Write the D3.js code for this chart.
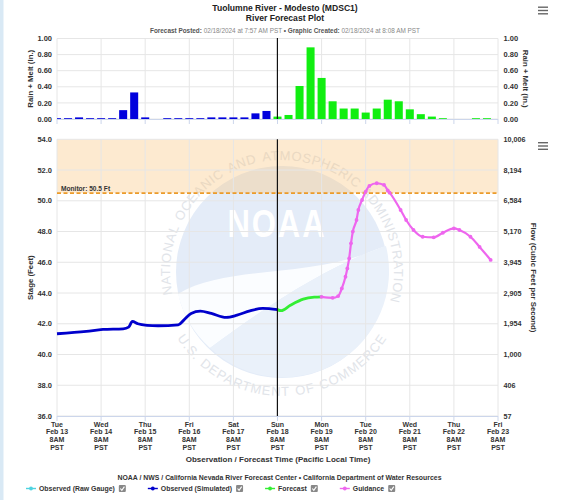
<!DOCTYPE html>
<html><head><meta charset="utf-8">
<script src="https://cdn.jsdelivr.net/npm/d3@7"></script>
<style>
body{margin:0;background:#fff;}
svg{display:block;font-family:"Liberation Sans",Arial,Helvetica,sans-serif;}
</style></head><body>
<svg id="c" width="562" height="500"></svg>
<script>
// ---------------- data ----------------
const xStart = "2024-02-13T08:00Z";
const xEnd = "2024-02-23T08:00Z";
const nowTime = "2024-02-18T07:57Z";
const dayNames = ["Tue","Wed","Thu","Fri","Sat","Sun","Mon","Tue","Wed","Thu","Fri"];
const dayDates = ["Feb 13","Feb 14","Feb 15","Feb 16","Feb 17","Feb 18","Feb 19","Feb 20","Feb 21","Feb 22","Feb 23"];
const dayHour = "8AM";
const dayZone = "PST";

const precipStart = "2024-02-13T08:00Z";   // 6-hourly values
const obsPrecip = [0.01,0.01,0.02,0.01,0.01,0.01,0.11,0.33,0.02,0,0.01,0.01,0.01,0.01,0.02,0.02,0.02,0.02,0.07,0.10];
const fcstPrecip = [0.03,0.05,0.41,0.89,0.51,0.22,0.13,0.13,0.08,0.13,0.24,0.22,0.12,0.06,0.03,0.01,0,0,0.01,0.01,0];
const precipTicks = [0,0.2,0.4,0.6,0.8,1.0];
const precipLabels = ["0.00","0.20","0.40","0.60","0.80","1.00"];

const stageTicks = [36,38,40,42,44,46,48,50,52,54];
const stageLabels = ["36.0","38.0","40.0","42.0","44.0","46.0","48.0","50.0","52.0","54.0"];
const flowLabels = ["57","406","1,000","1,954","2,905","3,945","5,170","6,584","8,194","10,006"];
const monitorStage = 50.5;

const obsStage = [
 ["2024-02-13T08:00Z",41.35],["2024-02-14T00:00Z",41.50],["2024-02-14T09:00Z",41.63],
 ["2024-02-14T20:00Z",41.67],["2024-02-14T23:00Z",41.78],["2024-02-15T01:00Z",42.15],
 ["2024-02-15T04:00Z",42.00],["2024-02-15T09:00Z",41.90],["2024-02-15T15:00Z",41.87],
 ["2024-02-16T02:00Z",41.93],["2024-02-16T05:00Z",42.24],["2024-02-16T09:00Z",42.67],
 ["2024-02-16T14:00Z",42.82],["2024-02-16T20:00Z",42.67],["2024-02-17T04:00Z",42.41],
 ["2024-02-17T10:00Z",42.56],["2024-02-17T17:00Z",42.84],["2024-02-18T00:00Z",43.00],
 ["2024-02-18T08:00Z",42.92]
];
const fcstStage = [
 ["2024-02-18T08:00Z",42.92],["2024-02-18T10:00Z",42.85],["2024-02-18T15:00Z",43.20],
 ["2024-02-18T22:00Z",43.60],["2024-02-19T04:00Z",43.73],["2024-02-19T08:00Z",43.75]
];
const guidStage = [
 ["2024-02-19T08:00Z",43.75],["2024-02-19T14:00Z",43.69],["2024-02-19T17:00Z",43.80],
 ["2024-02-19T19:00Z",44.30],["2024-02-19T21:00Z",45.06],["2024-02-19T22:00Z",45.60],
 ["2024-02-19T23:00Z",46.25],["2024-02-20T00:00Z",47.23],["2024-02-20T01:00Z",48.00],
 ["2024-02-20T03:00Z",48.75],["2024-02-20T04:00Z",49.40],["2024-02-20T06:00Z",50.05],
 ["2024-02-20T08:00Z",50.60],["2024-02-20T10:00Z",50.97],["2024-02-20T14:00Z",51.14],
 ["2024-02-20T18:00Z",51.03],["2024-02-20T20:00Z",50.67],["2024-02-20T21:00Z",50.53],
 ["2024-02-21T03:00Z",49.40],["2024-02-21T06:00Z",48.75],["2024-02-21T10:00Z",48.10],
 ["2024-02-21T15:00Z",47.66],["2024-02-21T21:00Z",47.62],["2024-02-22T02:00Z",47.92],
 ["2024-02-22T08:00Z",48.20],["2024-02-22T11:00Z",48.10],["2024-02-22T17:00Z",47.66],
 ["2024-02-22T22:00Z",47.00],["2024-02-23T04:00Z",46.15]
];
const legendItems = ["Observed (Raw Gauge)","Observed (Simulated)","Forecast","Guidance"];
const legendColors = ["#4fd3e0","#0000cc","#33ee33","#ee66ee"];
const sealTopWords = ["NATIONAL","OCEANIC","AND","ATMOSPHERIC","ADMINISTRATION"];
const sealBottomWords = ["U.S.","DEPARTMENT","OF","COMMERCE"];

// ---------------- layout ----------------
const svg = d3.select("#c");
const X0 = 57, X1 = 498;
const x = d3.scaleUtc().domain([new Date(xStart), new Date(xEnd)]).range([X0, X1]);
const yP = d3.scaleLinear().domain([0, 1]).range([119, 38.5]);
const yS = d3.scaleLinear().domain([36, 54]).range([416, 139.3]);
const tickDates = dayNames.map((d, i) => d3.utcDay.offset(new Date(xStart), i));
const grid = "#e6e6e6", axisCol = "#ccd6eb", txt = "#333";

svg.append("rect").attr("width", 562).attr("height", 500).attr("fill", "#fff");
svg.append("rect").attr("width", 3.5).attr("height", 500).attr("fill", "#d9e9f5");

// titles
svg.append("text").attr("x", 285).attr("y", 10.5).attr("text-anchor", "middle")
  .attr("font-size", 8.6).attr("font-weight", "bold").attr("fill", "#222").text("Tuolumne River - Modesto (MDSC1)");
svg.append("text").attr("x", 285).attr("y", 20.6).attr("text-anchor", "middle")
  .attr("font-size", 8.6).attr("font-weight", "bold").attr("fill", "#222").text("River Forecast Plot");
const sub = svg.append("text").attr("x", 285).attr("y", 32.5).attr("text-anchor", "middle").attr("font-size", 6.4);
sub.append("tspan").attr("font-weight", "bold").attr("fill", "#555").text("Forecast Posted: ");
sub.append("tspan").attr("fill", "#888").text("02/18/2024 at 7:57 AM PST ");
sub.append("tspan").attr("font-weight", "bold").attr("fill", "#555").text("\u2022 Graphic Created: ");
sub.append("tspan").attr("fill", "#888").text("02/18/2024 at 8:08 AM PST");

function burger(cx, cy) {
  [-3.3, 0, 3.3].forEach(d => svg.append("line").attr("x1", cx - 5).attr("x2", cx + 5)
    .attr("y1", cy + d).attr("y2", cy + d).attr("stroke", "#666").attr("stroke-width", 1.4));
}
burger(543, 10.5);
burger(543, 146);

// ---------------- precip chart ----------------
const gP = svg.append("g");
precipTicks.forEach(v => gP.append("line").attr("x1", X0).attr("x2", X1).attr("y1", yP(v)).attr("y2", yP(v)).attr("stroke", grid));
tickDates.forEach(d => gP.append("line").attr("x1", x(d)).attr("x2", x(d)).attr("y1", yP(1)).attr("y2", yP(0)).attr("stroke", grid));
svg.append("clipPath").attr("id", "clipP").append("rect").attr("x", X0).attr("y", 30).attr("width", X1 - X0).attr("height", 100);
const bars = gP.append("g").attr("clip-path", "url(#clipP)");
const step = 6 * 3600 * 1000, p0 = new Date(precipStart).getTime();
const bw = x(new Date(p0 + step)) - x(new Date(p0)) - 3;
obsPrecip.forEach((v, i) => {
  const t = new Date(p0 + i * step);
  bars.append("rect").attr("x", x(t) - bw / 2).attr("width", bw).attr("y", yP(v)).attr("height", yP(0) - yP(v)).attr("fill", "#0000dd");
});
fcstPrecip.forEach((v, i) => {
  const t = new Date(p0 + (i + obsPrecip.length) * step);
  bars.append("rect").attr("x", x(t) - bw / 2).attr("width", bw).attr("y", yP(v)).attr("height", yP(0) - yP(v)).attr("fill", "#11ee11");
});
gP.append("line").attr("x1", X0).attr("x2", X1).attr("y1", yP(0) + 0.5).attr("y2", yP(0) + 0.5).attr("stroke", axisCol);
tickDates.forEach(d => gP.append("line").attr("x1", x(d)).attr("x2", x(d)).attr("y1", yP(0)).attr("y2", yP(0) + 5).attr("stroke", axisCol));
gP.append("line").attr("x1", x(new Date(nowTime))).attr("x2", x(new Date(nowTime))).attr("y1", yP(1) - 0.5).attr("y2", yP(0)).attr("stroke", "#111").attr("stroke-width", 1.2);
precipTicks.forEach((v, i) => {
  gP.append("text").attr("x", 52).attr("y", yP(v) + 2.6).attr("text-anchor", "end").attr("font-size", 7.5).attr("font-weight", "bold").attr("fill", txt).text(precipLabels[i]);
  gP.append("text").attr("x", 503.5).attr("y", yP(v) + 2.6).attr("font-size", 7.5).attr("font-weight", "bold").attr("fill", txt).text(precipLabels[i]);
});
gP.append("text").attr("transform", `translate(33,${(yP(0) + yP(1)) / 2}) rotate(-90)`).attr("text-anchor", "middle")
  .attr("font-size", 7.8).attr("font-weight", "bold").attr("fill", txt).text("Rain + Melt (In.)");
gP.append("text").attr("transform", `translate(523,${(yP(0) + yP(1)) / 2}) rotate(90)`).attr("text-anchor", "middle")
  .attr("font-size", 7.8).attr("font-weight", "bold").attr("fill", txt).text("Rain + Melt (In.)");

// ---------------- stage chart ----------------
const gS = svg.append("g");
// NOAA watermark
const wm = gS.append("g").attr("transform", "translate(282,272)");
wm.append("circle").attr("r", 106).attr("fill", "#e4ecf8");
wm.append("path").attr("d", "M-104,22 C-55,-8 30,8 104,-26 C50,-8 -10,30 -72,76 A106,106 0 0 1 -104,22 Z").attr("fill", "#fbfdff");
wm.append("path").attr("d", "M-72,76 C-10,30 50,-8 104,-26 A106,106 0 0 1 -72,76 Z").attr("fill", "#eaf1fa");
wm.append("text").attr("x", -5).attr("y", -28).attr("text-anchor", "middle").attr("font-size", 31).attr("font-weight", "bold")
  .attr("letter-spacing", 2).attr("fill", "#ffffff").attr("transform", "scale(1,1.25)").text("NOAA");

function sealWords(words, r, midDeg, dir, fs, ls) {
  const widths = words.map(wd => {
    const t = wm.append("text").attr("font-size", fs).attr("letter-spacing", ls).text(wd);
    const w = t.node().getComputedTextLength(); t.remove(); return w;
  });
  const gap = fs * 0.45;
  const total = d3.sum(widths) + gap * (words.length - 1);
  const mid = midDeg * Math.PI / 180;
  let s = -total / 2;
  words.forEach((wd, i) => {
    const a0 = mid + dir * s / r, a1 = mid + dir * (s + widths[i]) / r;
    const id = "seal" + r + "_" + i;
    wm.append("path").attr("id", id).attr("fill", "none")
      .attr("d", `M${r * Math.cos(a0)},${r * Math.sin(a0)} A${r},${r} 0 0 ${dir > 0 ? 1 : 0} ${r * Math.cos(a1)},${r * Math.sin(a1)}`);
    wm.append("text").attr("font-size", fs).attr("letter-spacing", ls).attr("fill", "#e1e4e9")
      .append("textPath").attr("href", "#" + id).attr("startOffset", "50%").attr("text-anchor", "middle").text(wd);
    s += widths[i] + gap;
  });
}
sealWords(sealTopWords, 112, -88, 1, 13, 0.6);
sealWords(sealBottomWords, 124, 90, -1, 13, 1);

// monitor band
gS.append("rect").attr("x", X0).attr("width", X1 - X0).attr("y", yS(54)).attr("height", yS(monitorStage) - yS(54))
  .attr("fill", "rgb(250,196,125)").attr("fill-opacity", 0.36);
stageTicks.forEach(v => gS.append("line").attr("x1", X0).attr("x2", X1).attr("y1", yS(v)).attr("y2", yS(v)).attr("stroke", grid));
tickDates.forEach(d => gS.append("line").attr("x1", x(d)).attr("x2", x(d)).attr("y1", yS(54)).attr("y2", yS(36)).attr("stroke", grid));
gS.append("line").attr("x1", X0).attr("x2", X1).attr("y1", yS(monitorStage)).attr("y2", yS(monitorStage))
  .attr("stroke", "#eb9b2a").attr("stroke-width", 1.6).attr("stroke-dasharray", "4,2.5");
gS.append("text").attr("x", 61).attr("y", yS(monitorStage) - 2.5).attr("font-size", 6.6).attr("font-weight", "bold").attr("fill", "#333").text("Monitor: 50.5 Ft");

const line = d3.line().x(d => x(new Date(d[0]))).y(d => yS(d[1])).curve(d3.curveMonotoneX);
gS.append("path").datum(obsStage).attr("d", line).attr("fill", "none").attr("stroke", "#0000cc").attr("stroke-width", 2.8).attr("stroke-linejoin", "round");
gS.append("path").datum(fcstStage).attr("d", line).attr("fill", "none").attr("stroke", "#33ee33").attr("stroke-width", 2.8).attr("stroke-linejoin", "round");
gS.append("path").datum(guidStage).attr("d", line).attr("fill", "none").attr("stroke", "#ee66ee").attr("stroke-width", 2.2).attr("stroke-linejoin", "round");
gS.selectAll("circle.g").data(guidStage).enter().append("circle").attr("class", "g")
  .attr("cx", d => x(new Date(d[0]))).attr("cy", d => yS(d[1])).attr("r", 1.9).attr("fill", "#ee66ee");

gS.append("line").attr("x1", x(new Date(nowTime))).attr("x2", x(new Date(nowTime))).attr("y1", yS(54)).attr("y2", yS(36)).attr("stroke", "#111").attr("stroke-width", 1.2);
gS.append("line").attr("x1", X0).attr("x2", X1).attr("y1", yS(36) + 0.5).attr("y2", yS(36) + 0.5).attr("stroke", axisCol);
tickDates.forEach(d => gS.append("line").attr("x1", x(d)).attr("x2", x(d)).attr("y1", yS(36)).attr("y2", yS(36) + 5).attr("stroke", axisCol));

stageTicks.forEach((v, i) => {
  gS.append("text").attr("x", 52).attr("y", yS(v) + 2.6).attr("text-anchor", "end").attr("font-size", 7.5).attr("font-weight", "bold").attr("fill", txt).text(stageLabels[i]);
  gS.append("text").attr("x", 503.5).attr("y", yS(v) + 2.6).attr("font-size", 7.2).attr("font-weight", "bold").attr("fill", txt).text(flowLabels[i]);
});
gS.append("text").attr("transform", `translate(33,${(yS(36) + yS(54)) / 2}) rotate(-90)`).attr("text-anchor", "middle")
  .attr("font-size", 7.8).attr("font-weight", "bold").attr("fill", txt).text("Stage (Feet)");
gS.append("text").attr("transform", `translate(531,${(yS(36) + yS(54)) / 2}) rotate(90)`).attr("text-anchor", "middle")
  .attr("font-size", 7.8).attr("font-weight", "bold").attr("fill", txt).text("Flow (Cubic Feet per Second)");

// x tick labels
tickDates.forEach((d, i) => {
  const t = gS.append("text").attr("x", x(d)).attr("text-anchor", "middle").attr("font-size", 7).attr("font-weight", "bold").attr("fill", txt);
  [dayNames[i], dayDates[i], dayHour, dayZone].forEach((s, k) => t.append("tspan").attr("x", x(d)).attr("y", 426.5 + k * 7.8).text(s));
});
svg.append("text").attr("x", 278).attr("y", 462).attr("text-anchor", "middle").attr("font-size", 8).attr("font-weight", "bold").attr("fill", txt)
  .text("Observation / Forecast Time (Pacific Local Time)");
svg.append("text").attr("x", 279.5).attr("y", 480.2).attr("text-anchor", "middle").attr("font-size", 6.9).attr("font-weight", "bold").attr("fill", txt)
  .text("NOAA / NWS / California Nevada River Forecast Center  \u2022  California Department of Water Resources");

// legend
let lx = 26;
const ly = 488.5;
legendItems.forEach((name, i) => {
  const g = svg.append("g");
  g.append("line").attr("x1", lx).attr("x2", lx + 10).attr("y1", ly).attr("y2", ly).attr("stroke", legendColors[i]).attr("stroke-width", 1.4);
  g.append("circle").attr("cx", lx + 5).attr("cy", ly).attr("r", 1.9).attr("fill", legendColors[i]);
  const t = g.append("text").attr("x", lx + 13).attr("y", ly + 2.4).attr("font-size", 6.9).attr("font-weight", "bold").attr("fill", txt).text(name);
  const w = t.node().getComputedTextLength();
  const bx = lx + 13 + w + 4;
  g.append("rect").attr("x", bx).attr("y", ly - 3.5).attr("width", 7).attr("height", 7).attr("rx", 1).attr("fill", "#888");
  g.append("path").attr("d", `M${bx + 1.5},${ly} L${bx + 3},${ly + 1.8} L${bx + 5.6},${ly - 1.9}`).attr("fill", "none").attr("stroke", "#fff").attr("stroke-width", 1.1);
  lx = bx + 7 + 22;
});
</script>
</body></html>
